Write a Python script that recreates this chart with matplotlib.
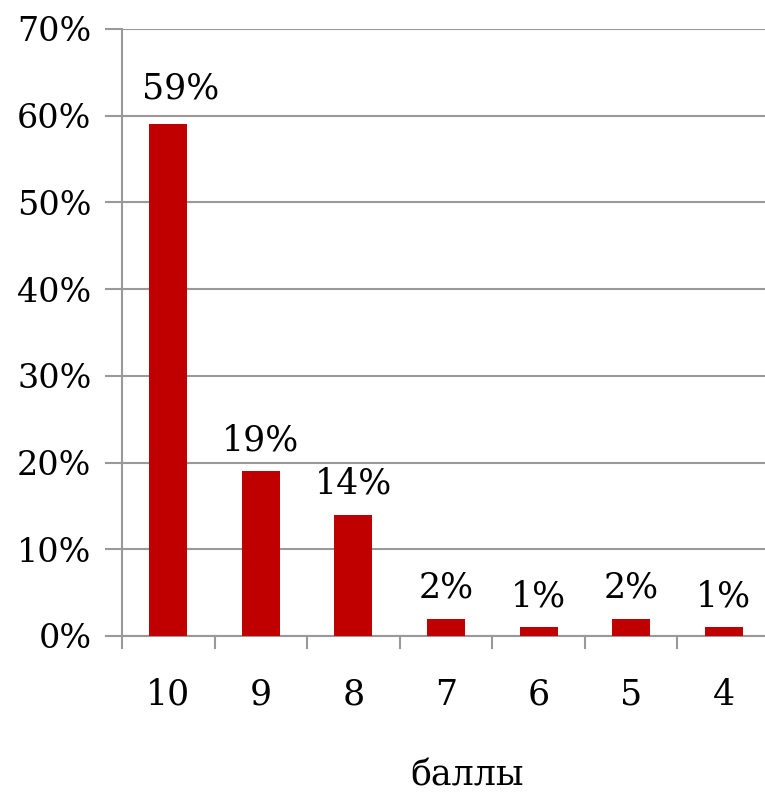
import matplotlib
matplotlib.use("Agg")
import matplotlib.pyplot as plt

# данные
categories = ['10', '9', '8', '7', '6', '5', '4']
values = [59, 19, 14, 2, 1, 2, 1]
labels = ['59%', '19%', '14%', '2%', '1%', '2%', '1%']

plt.rcParams['font.family'] = ['DejaVu Serif']
fs = 25

fig = plt.figure(figsize=(7.65, 7.93), dpi=100)
ax = fig.add_axes([122/765, 1 - 636/793, 648/765, 607/793])

x = range(len(categories))
ax.bar(x, values, width=0.41, color='#c00000', zorder=3)

for i, v in enumerate(values):
    dx = 0.13 if i == 0 else 0
    dy = 3.0 if i == 0 else 2.4
    ax.text(i + dx, v + dy, labels[i], ha='center', va='baseline', fontsize=fs)

ax.set_xlim(-0.5, len(categories) - 0.5)
ax.set_ylim(0, 70)
ax.set_yticks(range(0, 71, 10))
ax.set_yticklabels([f'{t}%' for t in range(0, 71, 10)], fontsize=24)
ax.set_xticks(list(x))
ax.set_xticklabels(categories, fontsize=fs)
ax.tick_params(axis='x', length=0, pad=30)
ax.tick_params(axis='y', length=12, color='#999999', width=1.5, pad=10)

# деления между категориями
for b in range(len(categories)):
    ax.plot([b - 0.5, b - 0.5], [0, -1.4], color='#999999', lw=1.5, clip_on=False)

ax.grid(axis='y', color='#999999', lw=1.5, zorder=0)
for s in ['top', 'right']:
    ax.spines[s].set_visible(False)
ax.spines['left'].set_color('#999999')
ax.spines['left'].set_linewidth(1.5)
ax.spines['bottom'].set_color('#999999')
ax.spines['bottom'].set_linewidth(1.5)

fig.text(467/765, 1 - 775/793, 'баллы', ha='center', va='center', fontsize=fs)

fig.savefig('out.png', dpi=100)
